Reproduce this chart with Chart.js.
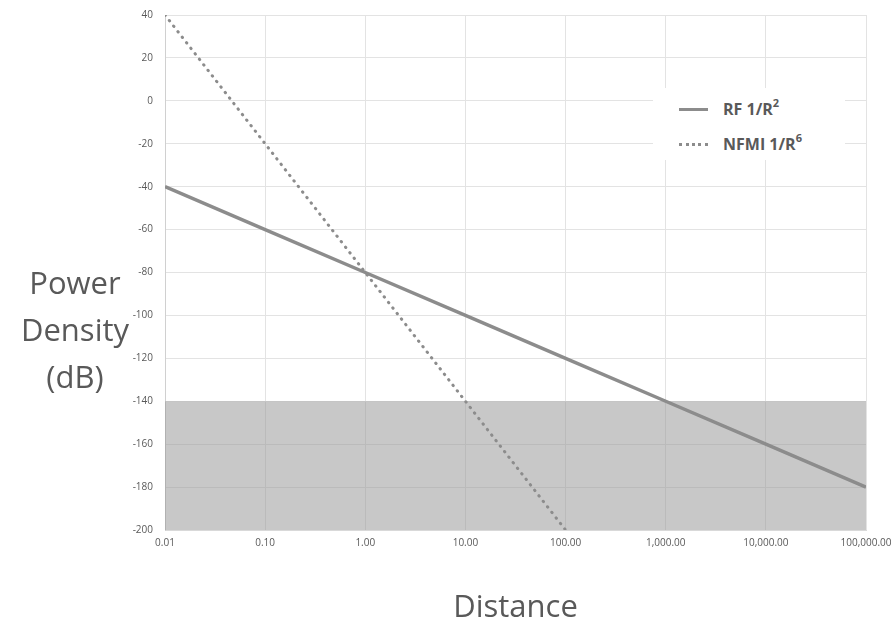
<!DOCTYPE html>
<html>
<head>
<meta charset="utf-8">
<script src="https://cdn.jsdelivr.net/npm/chart.js@4/dist/chart.umd.min.js"></script>
<style>
  html, body { margin: 0; padding: 0; background: #fff; }
  #wrap { position: relative; width: 895px; height: 621px; overflow: hidden; font-family: "Open Sans", sans-serif; }
  #c { position: absolute; left: 0; top: 0; }
  .ytitle { position: absolute; left: 0; width: 150px; text-align: center; color: #595959; font-size: 31px; line-height: 47px; top: 259px; }
  .xtitle { position: absolute; left: 165px; width: 701px; text-align: center; color: #595959; font-size: 31px; top: 584px; line-height: 42px; }
  #legend { position: absolute; left: 653px; top: 88px; width: 192px; height: 72px; background: #fff; }
  .item { position: absolute; left: 26px; height: 20px; display: flex; align-items: center; color: #595959; font-weight: bold; font-size: 16px; }
  .item .sw { width: 29px; height: 0; margin-right: 15px; }
  .item sup { font-size: 11px; position: relative; top: -2px; }
</style>
</head>
<body>
<div id="wrap">
  <canvas id="c" width="895" height="621"></canvas>
  <div class="ytitle">Power<br>Density<br>(dB)</div>
  <div class="xtitle">Distance</div>
  <div id="legend"></div>
</div>
<script>
// ---- data ----
const distances = [0.01, 0.1, 1, 10, 100, 1000, 10000, 100000];
const xTickLabels = ['0.01', '0.10', '1.00', '10.00', '100.00', '1,000.00', '10,000.00', '100,000.00'];
const yTicks = [40, 20, 0, -20, -40, -60, -80, -100, -120, -140, -160, -180, -200];
const rfDb = [-40, -60, -80, -100, -120, -140, -160, -180];
const nfmiDistances = [0.01, 0.1, 1, 10, 100];
const nfmiDb = [40, -20, -80, -140, -200];
const floorDb = [-140, -140, -140, -140, -140, -140, -140, -140];
const seriesNames = ['RF 1/R', 'NFMI 1/R'];
const seriesExponents = ['2', '6'];

const grey = '#8c8c8c';
const toPts = (xs, ys) => xs.map((x, i) => ({ x: x, y: ys[i] }));

const chart = new Chart(document.getElementById('c'), {
  type: 'line',
  data: {
    datasets: [
      {
        label: seriesNames[0] + '\u00B2',
        data: toPts(distances, rfDb),
        borderColor: grey, borderWidth: 3.5, pointRadius: 0, fill: false,
        tension: 0, order: 1
      },
      {
        label: seriesNames[1] + '\u2076',
        data: toPts(nfmiDistances, nfmiDb),
        borderColor: grey, borderWidth: 3, borderDash: [0.5, 6.5], borderCapStyle: 'round',
        pointRadius: 0, fill: false, tension: 0, order: 0
      },
      {
        label: 'floor',
        data: toPts(distances, floorDb),
        borderWidth: 0, borderColor: 'rgba(0,0,0,0)', pointRadius: 0,
        fill: 'start', backgroundColor: 'rgba(150,150,150,0.52)', order: 5
      }
    ]
  },
  options: {
    responsive: false,
    animation: false,
    layout: { padding: { left: 0, right: 29, top: 15, bottom: 61 } },
    plugins: { legend: { display: false }, tooltip: { enabled: false } },
    scales: {
      x: {
        type: 'logarithmic', min: 0.01, max: 100000,
        afterBuildTicks: (s) => { s.ticks = distances.map(v => ({ value: v })); },
        afterFit: (s) => { s.height = 30; s.paddingRight = 0; s.paddingLeft = 0; },
        ticks: {
          autoSkip: false, maxRotation: 0, padding: 7, color: '#595959',
          font: { family: 'Open Sans', size: 10 },
          callback: (v) => { const i = distances.indexOf(v); return i >= 0 ? xTickLabels[i] : ''; }
        },
        grid: { color: '#e3e3e3', lineWidth: 1, drawTicks: false },
        border: { color: '#d9d9d9' }
      },
      y: {
        type: 'linear', min: -200, max: 40,
        afterBuildTicks: (s) => { s.ticks = yTicks.map(v => ({ value: v })); },
        afterFit: (s) => { s.width = 165; s.paddingTop = 0; s.paddingBottom = 0; },
        ticks: {
          padding: 12, color: '#595959', font: { family: 'Open Sans', size: 10 },
          callback: (v) => String(v)
        },
        grid: { color: '#e3e3e3', lineWidth: 1, drawTicks: false },
        border: { color: '#d0d0d0' }
      }
    }
  }
});

// HTML legend built from the series names
const lg = document.getElementById('legend');
const rowTops = [11, 46];
const styles = ['border-top: 3.5px solid ' + grey, 'border-top: 3px dotted ' + grey];
seriesNames.forEach((n, i) => {
  const d = document.createElement('div');
  d.className = 'item';
  d.style.top = rowTops[i] + 'px';
  d.innerHTML = '<span class="sw" style="' + styles[i] + '"></span><span>' + n + '<sup>' + seriesExponents[i] + '</sup></span>';
  lg.appendChild(d);
});
</script>
</body>
</html>
